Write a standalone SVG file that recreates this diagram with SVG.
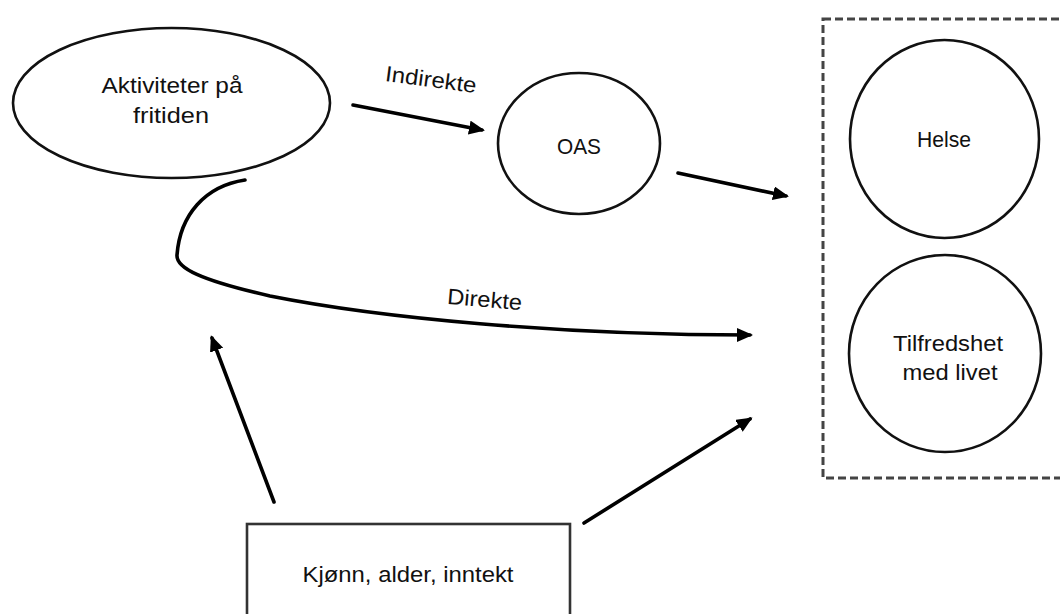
<svg xmlns="http://www.w3.org/2000/svg" width="1060" height="614" viewBox="0 0 1060 614">
<style>
.shape{fill:#fff;stroke:#111;stroke-width:2.6}
.box{fill:#fff;stroke:#333;stroke-width:2.6}
.dash{fill:none;stroke:#444;stroke-width:3;stroke-dasharray:8 4}
.lbl{font-family:"Liberation Sans",Arial,sans-serif;font-size:22px;fill:#111;text-anchor:middle}
.conn{fill:none;stroke:#000;stroke-width:3.6;stroke-linecap:round}
</style>
<defs>
<marker id="ah" markerUnits="userSpaceOnUse" markerWidth="18" markerHeight="16" refX="13" refY="7" orient="auto">
<path d="M0,0 L16,7 L0,14 z" fill="#000"/>
</marker>
</defs>
<g id="group-outcomes">
<rect class="dash" x="823" y="19" width="250" height="459"/>
</g>
<g id="node-aktiviteter">
<ellipse class="shape" cx="171.5" cy="103" rx="158.5" ry="75"/>
<text class="lbl" x="172" y="93" textLength="141" lengthAdjust="spacingAndGlyphs">Aktiviteter på</text>
<text class="lbl" x="171" y="123" textLength="76" lengthAdjust="spacingAndGlyphs">fritiden</text>
</g>
<g id="node-oas">
<ellipse class="shape" cx="579" cy="143.5" rx="81" ry="70.5"/>
<text class="lbl" x="579" y="154" textLength="44" lengthAdjust="spacingAndGlyphs">OAS</text>
</g>
<g id="node-helse">
<ellipse class="shape" cx="944.5" cy="139" rx="94.5" ry="99"/>
<text class="lbl" x="944" y="147" textLength="54" lengthAdjust="spacingAndGlyphs">Helse</text>
</g>
<g id="node-tilfredshet">
<ellipse class="shape" cx="945" cy="353.5" rx="96" ry="98.5"/>
<text class="lbl" x="948" y="351" textLength="110" lengthAdjust="spacingAndGlyphs">Tilfredshet</text>
<text class="lbl" x="950" y="380" textLength="95" lengthAdjust="spacingAndGlyphs">med livet</text>
</g>
<g id="node-kjonn">
<rect class="box" x="247" y="524" width="323" height="110"/>
<text class="lbl" x="408" y="582" textLength="211" lengthAdjust="spacingAndGlyphs">Kjønn, alder, inntekt</text>
</g>
<g id="connectors">
<path class="conn" d="M353,105 L482,130" marker-end="url(#ah)"/>
<text class="lbl" transform="translate(430,87) rotate(7.5)" x="0" y="0" textLength="92" lengthAdjust="spacingAndGlyphs">Indirekte</text>
<path class="conn" d="M678,173 L786,196" marker-end="url(#ah)"/>
<path class="conn" d="M245,180 C205,186 180,215 177,255 C176,268 200,280 270,296 C380,318 560,335 750,335" marker-end="url(#ah)"/>
<text class="lbl" transform="translate(484,307) rotate(5)" x="0" y="0" textLength="75" lengthAdjust="spacingAndGlyphs">Direkte</text>
<path class="conn" d="M274,502 L212,338" marker-end="url(#ah)"/>
<path class="conn" d="M584,523 L750,419" marker-end="url(#ah)"/>
</g>
</svg>
